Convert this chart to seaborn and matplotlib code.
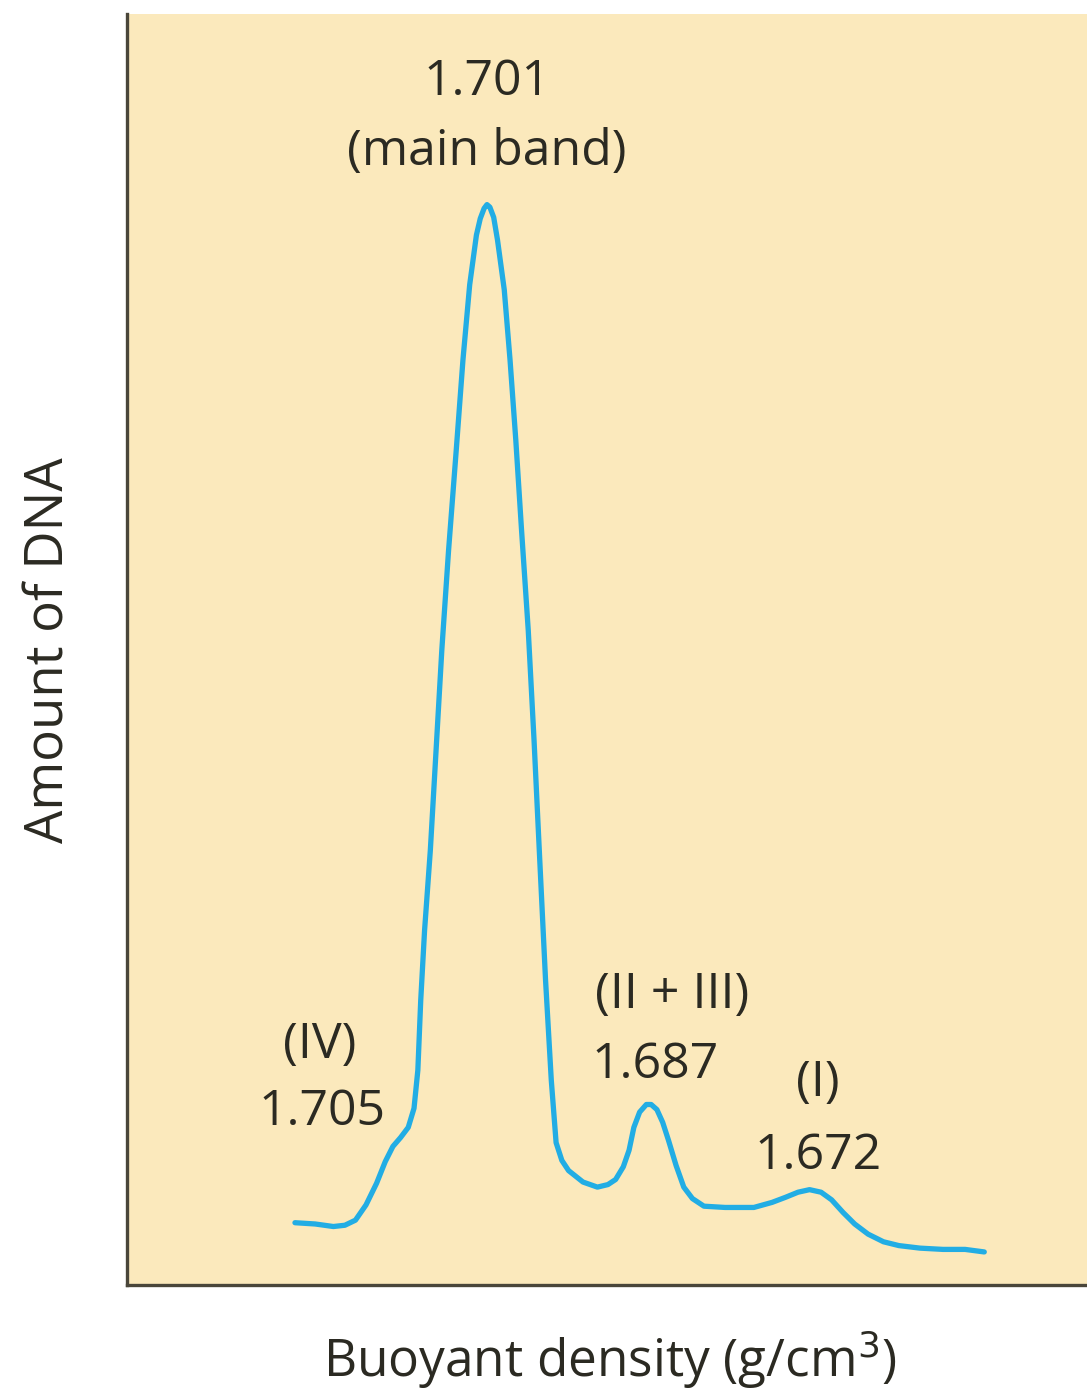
import matplotlib
matplotlib.use("Agg")
import matplotlib.pyplot as plt
import seaborn as sns
import pandas as pd

# Traced density-gradient profile (arbitrary position along the tube, amount of DNA)
position = [17.5, 19.6, 21.5, 22.7, 23.8, 24.9, 26.0, 26.9, 27.7, 28.5,
            29.3, 29.9, 30.3, 30.6, 31.0, 31.6, 32.2, 32.8, 33.5, 34.3,
            35.0, 35.7, 36.4, 36.8, 37.2, 37.5, 37.8, 38.2, 38.6, 39.3, 39.9, 40.5,
            41.1, 41.8, 42.4, 43.0, 43.6, 44.2, 44.7, 45.3, 46.0, 47.5,
            49.0, 50.1, 50.9, 51.7, 52.3, 52.8, 53.4, 54.1, 54.6, 55.2,
            55.8, 56.4, 57.2, 58.0, 58.9, 60.1, 62.3, 65.3, 67.2, 68.6,
            69.9, 71.1, 72.3, 73.4, 74.6, 75.8, 77.2, 78.8, 80.4, 82.6,
            85.0, 87.3, 89.3]
amount = [4.9, 4.8, 4.6, 4.7, 5.1, 6.3, 8.0, 9.7, 10.9, 11.6,
          12.4, 13.9, 16.9, 22.4, 27.9, 34.2, 42.1, 50.0, 57.8, 65.7,
          72.8, 78.7, 82.6, 83.9, 84.7, 85.0, 84.8, 84.0, 82.2, 78.3, 72.8, 66.5,
          59.4, 51.5, 42.9, 33.4, 24.0, 16.1, 11.2, 9.8, 9.0, 8.1,
          7.7, 7.9, 8.3, 9.3, 10.6, 12.4, 13.6, 14.2, 14.2, 13.8,
          12.8, 11.4, 9.4, 7.7, 6.8, 6.2, 6.1, 6.1, 6.5, 6.9,
          7.3, 7.5, 7.3, 6.7, 5.7, 4.8, 4.0, 3.4, 3.1, 2.9,
          2.8, 2.8, 2.6]

# Band labels: (text, x, y)
band_labels = [
    ("1.701", 37.5, 94.6),
    ("(main band)", 37.5, 89.1),
    ("(IV)", 20.1, 18.9),
    ("1.705", 20.3, 13.6),
    ("(II + III)", 56.8, 22.8),
    ("1.687", 55.0, 17.3),
    ("(I)", 72.0, 15.9),
    ("1.672", 72.0, 10.1),
]

df = pd.DataFrame({"position": position, "amount": amount})

sns.set_style("white")
fonts = ["Open Sans", "DejaVu Sans"]
plt.rcParams["font.family"] = fonts

text_color = "#2b2a22"
fig = plt.figure(figsize=(10.87, 13.94), dpi=100)
ax = fig.add_axes([0.1168, 0.0782, 0.8832, 0.9118])
ax.set_facecolor("#fbe9bc")

sns.lineplot(data=df, x="position", y="amount", ax=ax, color="#22ade4",
             linewidth=3.8, estimator=None)

for txt, x, y in band_labels:
    ax.text(x, y, txt, ha="center", va="center", fontsize=36, color=text_color)

ax.set_xlim(0, 100)
ax.set_ylim(0, 100)
ax.set_xticks([])
ax.set_yticks([])
for side in ["top", "right"]:
    ax.spines[side].set_visible(False)
for side in ["left", "bottom"]:
    ax.spines[side].set_color("#4a463a")
    ax.spines[side].set_linewidth(2.4)

ax.set_xlabel("Buoyant density (g/cm$^3$)", fontsize=37, color=text_color, va="center")
ax.set_ylabel("Amount of DNA", fontsize=38, color=text_color, va="center")
ax.xaxis.set_label_coords(0.503, -0.059)
ax.yaxis.set_label_coords(-0.080, 0.4996)

fig.savefig("out.png", dpi=100)
